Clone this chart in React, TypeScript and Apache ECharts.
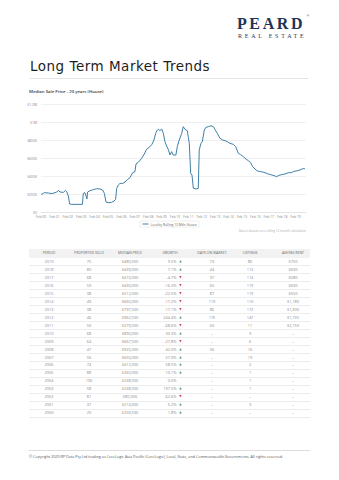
import React, { useEffect, useRef } from "react";
import * as echarts from "echarts";

// ---- chart data (years since Feb 2000, median sale price) ----
const lineYears = [
  0.0, 0.1, 0.25, 0.55, 0.8, 1.05, 1.17, 1.32, 1.42, 1.67, 1.82, 1.92, 2.04, 2.14, 2.29, 2.7, 3.09, 3.16, 3.28, 3.36,
  3.43, 3.48, 3.66, 3.9, 4.15, 4.4, 4.6, 4.73, 4.85, 5.02, 5.27, 5.45, 5.57, 5.65, 5.77, 5.9, 6.1, 6.27, 6.47, 6.64,
  6.84, 7.01, 7.09, 7.26, 7.51, 7.71, 7.88, 8.08, 8.28, 8.43, 8.56, 8.68, 8.78, 8.88, 9.01, 9.13, 9.25, 9.38, 9.5,
  9.63, 9.75, 9.87, 10.07, 10.17, 10.32, 10.5, 10.62, 10.75, 10.92, 10.99, 11.07, 11.17, 11.27, 11.37, 11.57, 11.74,
  11.81, 11.94, 12.04, 12.19, 12.31, 12.49, 12.69, 12.86, 12.98, 13.16, 13.36, 13.56, 13.73, 13.91, 14.1, 14.35,
  14.53, 14.73, 14.9, 15.1, 15.3, 15.5, 15.65, 15.8, 15.97, 16.15, 16.4, 16.64, 16.89, 17.14, 17.39, 17.59, 17.76,
  17.96, 18.21, 18.46, 18.71, 18.88, 19.08, 19.33, 19.53, 19.7,
];
const lineValues = [
  196000, 200000, 215000, 211000, 204000, 215000, 222000, 240000, 222000, 218000, 240000, 226000, 178000, 89000,
  85000, 85000, 85000, 207000, 215000, 178000, 144000, 222000, 237000, 248000, 259000, 256000, 244000, 207000,
  111000, 104000, 107000, 122000, 141000, 263000, 300000, 318000, 318000, 333000, 363000, 381000, 437000, 448000,
  533000, 552000, 596000, 644000, 696000, 718000, 752000, 800000, 874000, 911000, 918000, 904000, 922000, 874000,
  781000, 733000, 696000, 633000, 670000, 633000, 633000, 726000, 800000, 874000, 948000, 918000, 904000, 837000,
  763000, 430000, 411000, 263000, 256000, 263000, 689000, 763000, 781000, 911000, 941000, 948000, 959000, 948000,
  918000, 874000, 818000, 800000, 793000, 781000, 763000, 752000, 726000, 652000, 637000, 615000, 589000, 567000,
  548000, 504000, 478000, 456000, 448000, 441000, 426000, 415000, 404000, 393000, 407000, 415000, 422000, 437000,
  437000, 452000, 456000, 467000, 481000, 481000,
];
const xTickLabels = [
  "Feb 00", "Feb 01", "Feb 02", "Feb 03", "Feb 04", "Feb 05", "Feb 06", "Feb 07", "Feb 08", "Feb 09",
  "Feb 10", "Feb 11", "Feb 12", "Feb 13", "Feb 14", "Feb 15", "Feb 16", "Feb 17", "Feb 18", "Feb 19",
];
const yTickLabels = ["$0", "$200K", "$400K", "$600K", "$800K", "$1M", "$1.2M"];
const seriesName = "Locality Rolling 12 Mth: House";

// ---- table data ----
const tableHeaders = ["PERIOD", "PROPERTIES SOLD", "MEDIAN PRICE", "GROWTH", "DAYS ON MARKET", "LISTINGS", "ASKING RENT"];
const periods = ["2019", "2018", "2017", "2016", "2015", "2014", "2013", "2012", "2011", "2010", "2009", "2008", "2007", "2006", "2005", "2004", "2003", "2002", "2001", "2000"];
const propertiesSold = ["75", "80", "68", "59", "38", "49", "38", "46", "50", "68", "64", "47", "56", "74", "88", "100", "58", "81", "37", "20"];
const medianPrices = ["$480,500", "$439,000", "$410,000", "$430,000", "$512,000", "$660,000", "$797,500", "$962,500", "$279,500", "$890,000", "$667,500", "$925,000", "$650,000", "$412,000", "$260,000", "$238,000", "$238,000", "$80,000", "$214,000", "$203,500"];
const growthText = ["9.5%", "7.1%", "-4.7%", "-16.3%", "-22.5%", "-17.2%", "-17.1%", "244.4%", "-68.6%", "33.3%", "-27.8%", "42.0%", "57.9%", "58.5%", "10.1%", "0.0%", "197.5%", "-62.6%", "5.2%", "1.8%"];
const growthDir = ["up", "up", "down", "down", "down", "down", "down", "up", "down", "up", "down", "up", "up", "up", "up", "", "up", "down", "up", "up"];
const daysOnMarket = ["73", "44", "37", "65", "87", "119", "86", "175", "60", "-", "-", "56", "-", "-", "-", "-", "-", "-", "-", "-"];
const listings = ["86", "113", "114", "119", "119", "110", "172", "147", "11", "9", "6", "16", "19", "2", "1", "1", "1", "-", "3", "-"];
const askingRent = ["$750", "$600", "$580", "$600", "$550", "$1,180", "$1,600", "$1,725", "$2,150", "-", "-", "-", "-", "-", "-", "-", "-", "-", "-", "-"];

const FONT = "'Open Sans', 'DejaVu Sans', sans-serif";

function Chart() {
  const ref = useRef<HTMLDivElement>(null);
  useEffect(() => {
    if (!ref.current) return;
    const chart = echarts.init(ref.current, undefined, { renderer: "svg" });
    chart.setOption({
      animation: false,
      textStyle: { fontFamily: FONT },
      title: {
        text: "Median Sale Price - 20 years (House)",
        left: 29,
        top: 5,
        padding: 0,
        textStyle: { fontSize: 4.3, fontWeight: 600, color: "#333", fontFamily: FONT },
      },
      grid: { left: 41, right: 33, top: 20, bottom: 26 },
      legend: {
        data: [seriesName],
        top: 137,
        left: "center",
        icon: "rect",
        itemWidth: 6,
        itemHeight: 1,
        itemGap: 2,
        padding: [1.5, 2.5],
        borderColor: "#dddddd",
        borderWidth: 0.5,
        textStyle: { fontSize: 3.3, color: "#666", fontFamily: FONT, padding: [0, 0, 0, -3] },
      },
      graphic: [
        {
          type: "text",
          right: 33,
          top: 145.5,
          style: {
            text: "Data is based on a rolling 12 month calculation",
            fontSize: 3.1,
            fill: "#aaa",
            fontFamily: FONT,
          },
        },
      ],
      xAxis: {
        type: "value",
        min: 0,
        max: 19.78,
        interval: 1,
        axisLine: { show: true, lineStyle: { color: "#dcdcdc", width: 0.6 } },
        axisTick: { show: false },
        splitLine: { show: false },
        axisLabel: {
          fontSize: 3.4,
          color: "#888",
          margin: 3,
          showMaxLabel: false,
          formatter: (v: number) => (Number.isInteger(v) ? xTickLabels[v] ?? "" : ""),
        },
      },
      yAxis: {
        type: "value",
        min: 0,
        max: 1200000,
        interval: 200000,
        axisLine: { show: false },
        axisTick: { show: false },
        splitLine: { lineStyle: { color: "#e6e6e6", width: 0.6 } },
        axisLabel: {
          fontSize: 3.4,
          color: "#888",
          margin: 4,
          formatter: (v: number) => yTickLabels[Math.round(v / 200000)] ?? "",
        },
      },
      series: [
        {
          name: seriesName,
          type: "line",
          showSymbol: false,
          symbol: "none",
          data: lineYears.map((t, i) => [t, lineValues[i]]),
          lineStyle: { color: "#3f7fa6", width: 1 },
          itemStyle: { color: "#3f7fa6" },
        },
      ],
    });
    return () => chart.dispose();
  }, []);
  return <div ref={ref} style={{ position: "absolute", left: 0, top: 84, width: 339, height: 154 }} />;
}

const colCenters = [49, 89, 130, 0, 212, 250, 293];
const ROW_TOP = 258;
const ROW_H = 7.96;

function Cell({ x, y, text, color, size, weight }: { x: number; y: number; text: string; color: string; size: number; weight?: number }) {
  return (
    <div
      style={{
        position: "absolute",
        left: x - 30,
        top: y,
        width: 60,
        height: ROW_H,
        lineHeight: ROW_H + "px",
        textAlign: "center",
        fontSize: size,
        color,
        fontWeight: weight ?? 400,
        whiteSpace: "nowrap",
      }}
    >
      {text}
    </div>
  );
}

function Table() {
  const headerTop = 248.5;
  const cells: React.ReactNode[] = [];
  tableHeaders.forEach((h, c) => {
    const x = c === 3 ? 170 : colCenters[c];
    cells.push(<Cell key={"h" + c} x={x} y={headerTop + 0.5} text={h} color="#666" size={3.5} />);
  });
  periods.forEach((p, i) => {
    const y = ROW_TOP + i * ROW_H;
    const cols = [p, propertiesSold[i], medianPrices[i], "", daysOnMarket[i], listings[i], askingRent[i]];
    cols.forEach((t, c) => {
      if (c === 3) return;
      cells.push(<Cell key={i + "-" + c} x={colCenters[c]} y={y} text={t === "-" ? "–" : t} color="#888" size={3.9} />);
    });
    cells.push(
      <div
        key={i + "-g"}
        style={{
          position: "absolute",
          left: 146,
          width: 30.5,
          top: y,
          height: ROW_H,
          lineHeight: ROW_H + "px",
          textAlign: "right",
          fontSize: 3.9,
          color: "#888",
          whiteSpace: "nowrap",
        }}
      >
        {growthText[i]}
      </div>
    );
    if (growthDir[i]) {
      cells.push(
        <div
          key={i + "-a"}
          style={{
            position: "absolute",
            left: 178.5,
            width: 4,
            top: y,
            height: ROW_H,
            lineHeight: ROW_H + "px",
            textAlign: "center",
            fontSize: 3,
            color: growthDir[i] === "up" ? "#3a9d5d" : "#d2443c",
          }}
        >
          {growthDir[i] === "up" ? "▲" : "▼"}
        </div>
      );
    }
    cells.push(
      <div
        key={i + "-l"}
        style={{ position: "absolute", left: 29, width: 281, top: y + ROW_H - 0.5, height: 0.6, background: "#ededed" }}
      />
    );
  });
  return (
    <>
      <div style={{ position: "absolute", left: 29, top: headerTop, width: 281, height: 9, background: "#f2f2f2" }} />
      {cells}
    </>
  );
}

export default function App() {
  return (
    <div
      style={{
        position: "fixed",
        left: 0,
        top: 0,
        width: 339,
        height: 480,
        background: "#fff",
        fontFamily: FONT,
        overflow: "hidden",
      }}
    >
      {/* logo */}
      <div
        style={{
          position: "absolute",
          left: 237,
          top: 15,
          fontFamily: "'Liberation Serif', 'DejaVu Serif', serif",
          fontWeight: 700,
          fontSize: 16,
          letterSpacing: 2.6,
          color: "#1d3456",
          lineHeight: "18px",
          whiteSpace: "nowrap",
        }}
      >
        PEARD
      </div>
      <div
        style={{
          position: "absolute",
          left: 306.5,
          top: 14,
          fontFamily: "'Liberation Serif', serif",
          fontSize: 3.5,
          lineHeight: "4px",
          color: "#1d3456",
        }}
      >
        ®
      </div>
      <div
        style={{
          position: "absolute",
          left: 238,
          top: 33,
          fontFamily: "'Liberation Serif', 'DejaVu Serif', serif",
          fontSize: 6,
          letterSpacing: 2.75,
          color: "#1d3456",
          lineHeight: "7px",
          whiteSpace: "nowrap",
        }}
      >
        REAL ESTATE
      </div>
      {/* title */}
      <div
        style={{
          position: "absolute",
          left: 30,
          top: 58,
          fontFamily: "'DejaVu Sans', sans-serif",
          fontSize: 13.5,
          letterSpacing: 0.5,
          fontWeight: 400,
          color: "#1e1e1e",
          lineHeight: "16px",
          whiteSpace: "nowrap",
        }}
      >
        Long Term Market Trends
      </div>
      <div style={{ position: "absolute", left: 30, top: 78, width: 278, height: 0.7, background: "#e4e4e4" }} />
      <Chart />
      <Table />
      {/* footer */}
      <div style={{ position: "absolute", left: 29, top: 450, width: 281, height: 0.7, background: "#dcdcdc" }} />
      <div
        style={{
          position: "absolute",
          left: 29,
          top: 454,
          fontSize: 3.75,
          color: "#555",
          whiteSpace: "nowrap",
          lineHeight: "5px",
        }}
      >
        © Copyright 2020 RP Data Pty Ltd trading as CoreLogic Asia Pacific (CoreLogic), Local, State, and Commonwealth Governments. All rights reserved.
      </div>
    </div>
  );
}
